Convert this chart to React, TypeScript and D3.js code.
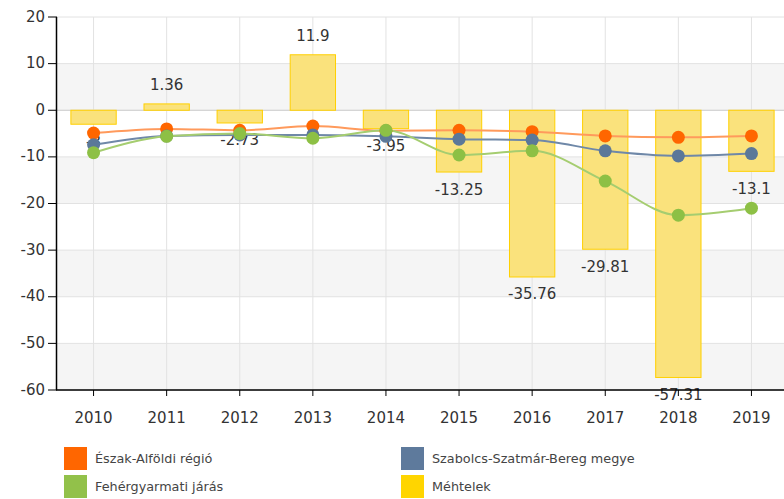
import * as d3 from "d3";

const years = ["2010", "2011", "2012", "2013", "2014", "2015", "2016", "2017", "2018", "2019"];
const mehtelek = [-3, 1.36, -2.73, 11.9, -3.95, -13.25, -35.76, -29.81, -57.31, -13.1];
const eszakAlfold = [-4.9, -4.0, -4.3, -3.4, -4.4, -4.3, -4.6, -5.5, -5.8, -5.5];
const szabolcs = [-7.4, -5.5, -5.3, -5.3, -5.6, -6.2, -6.4, -8.7, -9.8, -9.3];
const fehergyarmat = [-9.1, -5.6, -5.0, -6.0, -4.3, -9.6, -8.7, -15.2, -22.5, -21.0];
const yTicks = [20, 10, 0, -10, -20, -30, -40, -50, -60];

const lineSeries = [
  { name: "Észak-Alföldi régió", values: eszakAlfold, color: "#FF6600", line: "#FF9A5C" },
  { name: "Szabolcs-Szatmár-Bereg megye", values: szabolcs, color: "#5B7899", line: "#6F88A8" },
  { name: "Fehérgyarmati járás", values: fehergyarmat, color: "#8DC045", line: "#A5CD70" },
];

const legend = [
  { name: "Észak-Alföldi régió", color: "#FF6600", col: 0, row: 0 },
  { name: "Szabolcs-Szatmár-Bereg megye", color: "#5E7A9C", col: 1, row: 0 },
  { name: "Fehérgyarmati járás", color: "#92C14A", col: 0, row: 1 },
  { name: "Méhtelek", color: "#FFD500", col: 1, row: 1 },
];

const W = 784;
const H = 499;
const left = 57;
const right = 788;
const top = 17;
const bottom = 390;
const font = "'DejaVu Sans', Verdana, sans-serif";

export default function App() {
  const x = d3.scaleBand().domain(years).range([left, right]).padding(0);
  const y = d3.scaleLinear().domain([-60, 20]).range([bottom, top]);
  const cx = (yr: string) => (x(yr) as number) + x.bandwidth() / 2;
  const barW = x.bandwidth() * 0.62;

  const line = d3
    .line<number>()
    .x((_, i) => cx(years[i]))
    .y((d) => y(d))
    .curve(d3.curveMonotoneX);

  const bands = [];
  for (let i = 0; i < yTicks.length - 1; i++) {
    if (i % 2 === 1) bands.push([yTicks[i], yTicks[i + 1]]);
  }

  return (
    <svg width={W} height={H} style={{ position: "absolute", left: 0, top: 0, fontFamily: font }}>
      <rect x={0} y={0} width={W} height={H} fill="#fff" />
      {bands.map(([a, b]) => (
        <rect key={a} x={left} y={y(a)} width={right - left} height={y(b) - y(a)} fill="#F5F5F5" />
      ))}
      {yTicks.map((t) => (
        <line key={t} x1={left} x2={right} y1={y(t)} y2={y(t)} stroke={t === 0 ? "#C8C8C8" : "#E2E2E2"} strokeWidth={1} />
      ))}
      {years.map((yr) => (
        <line key={yr} x1={cx(yr)} x2={cx(yr)} y1={top} y2={bottom} stroke="#E2E2E2" strokeWidth={1} />
      ))}

      {mehtelek.map((v, i) => (
        <rect
          key={i}
          x={cx(years[i]) - barW / 2}
          y={y(Math.max(0, v))}
          width={barW}
          height={Math.abs(y(v) - y(0))}
          fill="#FAE27C"
          stroke="#FFD000"
          strokeWidth={1}
        />
      ))}
      {mehtelek.map((v, i) => (
        <text
          key={i}
          x={cx(years[i])}
          y={v >= 0 ? y(v) - 18 : y(v) + 18}
          textAnchor="middle"
          dominantBaseline="middle"
          fontSize={15}
          fill="#333"
        >
          {v}
        </text>
      ))}

      {lineSeries.map((s) => (
        <path key={s.name} d={line(s.values) || ""} fill="none" stroke={s.line} strokeWidth={2} />
      ))}
      {lineSeries.map((s) =>
        s.values.map((v, i) => <circle key={s.name + i} cx={cx(years[i])} cy={y(v)} r={6.5} fill={s.color} />)
      )}

      <line x1={left - 0.5} x2={left - 0.5} y1={top} y2={bottom} stroke="#000" strokeWidth={1.5} />
      <line x1={left - 1} x2={right} y1={bottom} y2={bottom} stroke="#000" strokeWidth={1.5} />
      {yTicks.map((t) => (
        <g key={t}>
          <line x1={48} x2={left} y1={y(t)} y2={y(t)} stroke="#000" strokeWidth={1} />
          <text x={45} y={y(t)} textAnchor="end" dominantBaseline="middle" fontSize={15} fill="#333">
            {t}
          </text>
        </g>
      ))}
      {years.map((yr) => (
        <g key={yr}>
          <line x1={cx(yr)} x2={cx(yr)} y1={bottom} y2={bottom + 6} stroke="#000" strokeWidth={1} />
          <text x={cx(yr)} y={bottom + 28} textAnchor="middle" dominantBaseline="middle" fontSize={15} fill="#333">
            {yr}
          </text>
        </g>
      ))}

      {legend.map((l) => {
        const lx = l.col === 0 ? 64 : 401;
        const ly = 447 + l.row * 28;
        return (
          <g key={l.name}>
            <rect x={lx} y={ly} width={23} height={23} fill={l.color} />
            <text x={lx + 31} y={ly + 12} dominantBaseline="middle" fontSize={12.8} fill="#444">
              {l.name}
            </text>
          </g>
        );
      })}
    </svg>
  );
}
